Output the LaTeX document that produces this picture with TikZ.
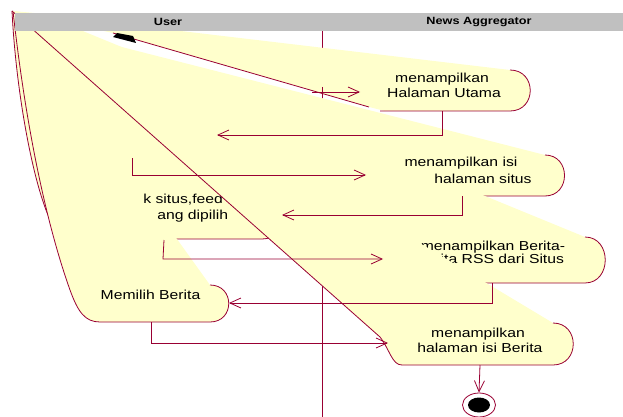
\documentclass[tikz,border=0pt]{standalone}
\usepackage{fontspec}
\setmainfont{Liberation Sans}
\newfontfamily\rosefont[FakeStretch=1.21]{Liberation Sans}
\usetikzlibrary{shapes.geometric,arrows.meta,positioning}
\definecolor{rosered}{RGB}{153,0,51}
\definecolor{roseyellow}{RGB}{255,255,204}
\definecolor{rosegray}{RGB}{192,192,192}

\begin{document}
\begin{tikzpicture}[x=1pt, y=-1pt, line width=0.8pt,
   wedge/.style={fill=roseyellow},
   rim/.style={draw=rosered},
   trans/.style={draw=rosered, -{Straight Barb[length=11pt,width=10pt]}},
   lbl/.style={anchor=base, inner sep=0pt, font=\rosefont\fontsize{13}{15}\selectfont},
   lanelbl/.style={inner sep=0pt, font=\rosefont\bfseries\fontsize{10.5}{12}\selectfont}]
   \useasboundingbox (0,0) rectangle (623,417);
   % swimlane divider
   \draw[rosered, line width=0.6pt] (322,31) -- (322,417);

   % menampilkan Halaman Utama
   \fill[wedge] (12,11) -- (510,70) .. controls (537,70) and (537,111) .. (510,111)
      -- (385,111) -- (369,107) -- (113,33) -- cycle;
   \draw[rim] (113,33) -- (369,107);
   \draw[rim] (380,111) -- (510,111) .. controls (537,111) and (537,70) .. (510,70);
   \node[lbl] (utama1) at (442,83) {menampilkan};
   \node[lbl] (utama2) at (444,98) {Halaman Utama};

   % menampilkan isi halaman situs
   \fill[wedge] (12,19) -- (545,155) .. controls (571,155) and (571,196) .. (545,196)
      -- (380,196) -- cycle;
   \draw[rim] (380,196) -- (545,196) .. controls (571,196) and (571,155) .. (545,155);

   % menampilkan Berita-berita RSS
   \fill[wedge] (40,13.5) -- (585,237) .. controls (612,237) and (612,283) .. (585,283)
      -- (400,283) -- (12,11) -- cycle;
   \draw[rim] (400,283) -- (585,283) .. controls (612,283) and (612,237) .. (585,237);
   \node[lbl] (rss1) at (493,250) {menampilkan Berita-};
   \node[lbl] (rss2) at (491,263) {berita RSS dari Situs};
   \node[lbl] (situs1) at (461,166) {menampilkan isi};
   \node[lbl] (situs2) at (483,183) {halaman situs};

   % klik situs
   \fill[wedge] (12,11) -- (262,197) .. controls (289,197) and (289,239) .. (262,239)
      -- (70,239) .. controls (62,239) .. (58,232) .. controls (40,215) and (17,110) .. (12,11);
   \draw[rim] (12,11) .. controls (17,110) and (40,215) .. (58,232)
      .. controls (62,239) .. (70,239) -- (262,239) .. controls (289,239) and (289,197) .. (262,197);

   % Memilih Berita
   \fill[wedge] (13,11) -- (210,285) .. controls (235,285) and (235,322) .. (210,322)
      -- (100,322) .. controls (85,322) and (78,312) .. (70,290)
      .. controls (45,220) and (25,120) .. (13,11) -- cycle;
   \draw[rim] (13,11) .. controls (25,120) and (45,220) .. (70,290)
      .. controls (78,312) and (85,322) .. (100,322) -- (210,322)
      .. controls (235,322) and (235,285) .. (210,285);
   \node[lbl] (pilih) at (150.5,299) {Memilih Berita};
   \node[lbl, anchor=base west] (klik1) at (143,203) {k situs,feed};
   \node[lbl, anchor=base west] (klik2) at (157,219) {ang dipilih};

   % menampilkan halaman isi Berita
   \fill[wedge] (40,15) -- (553,323) .. controls (580,323) and (580,365) .. (553,365)
      -- (402,365) .. controls (392,365) and (390,350) .. (380,337) -- (12,11) -- cycle;
   \draw[rim] (12,11) -- (380,337) .. controls (390,350) and (392,365) .. (402,365)
      -- (553,365) .. controls (580,365) and (580,323) .. (553,323);
   \node[lbl] (isi1) at (478,337) {menampilkan};
   \node[lbl] (isi2) at (480,352) {halaman isi Berita};

   % lane header
   \fill[rosegray] (15,13) rectangle (623,31);
   \node[lanelbl] (user) at (168,22) {User};
   \node[lanelbl] (news) at (479,22) {News Aggregator};

   % start
   \fill (113,37) -- (117,33) -- (133,36) -- (136,43) -- cycle;

   % transitions
   \draw[trans] (312,92) -- (360,92);
   \draw[rosered, line width=0.6pt] (322,87) -- (322,96);
   \draw[trans] (442,111) -- (442,135) -- (217,135);
   \draw[trans] (132,158) -- (132,175) -- (366,175);
   \draw[trans] (462,196) -- (462,215) -- (282,215);
   \draw[trans] (164,240) -- (163,259) -- (383,259);
   \draw[trans] (492,283) -- (492,303) -- (229,303);
   \draw[trans] (151,322) -- (151,343) -- (388,343);

   % end
   \node[ellipse, draw=rosered, fill=white, minimum width=33pt, minimum height=24pt, inner sep=0pt] (fin) at (479,405) {};
   \node[ellipse, fill=black, minimum width=22pt, minimum height=15pt, inner sep=0pt] (finin) at (fin.center) {};
   \draw[trans] (480,365) -- (fin.north);
\end{tikzpicture}
\end{document}
